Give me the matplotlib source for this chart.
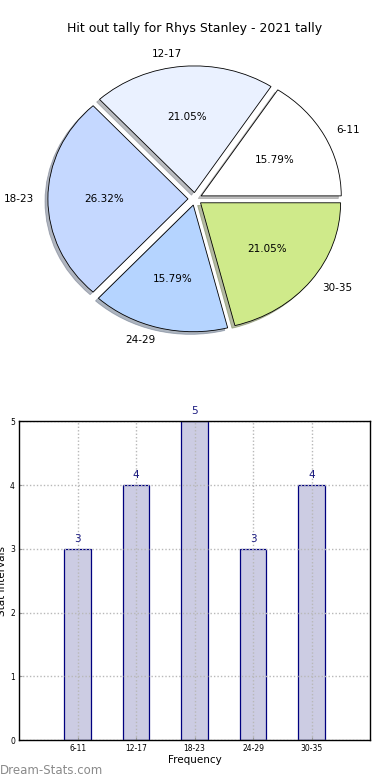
import matplotlib
matplotlib.use('Agg')
import matplotlib.pyplot as plt

# Data
intervals = ['6-11', '12-17', '18-23', '24-29', '30-35']
counts = [3, 4, 5, 3, 4]
slice_colors = ['#ffffff', '#eaf1ff', '#c5d8ff', '#b5d4ff', '#cfea8a']

fig = plt.figure(figsize=(3.9, 7.8), dpi=100)

# Pie chart
ax1 = fig.add_axes([0.051, 0.542, 0.898, 0.406])
ax1.pie(counts, labels=intervals, colors=slice_colors, autopct='%.2f%%',
        explode=[0.05] * len(counts),
        shadow={'ox': -0.015, 'oy': -0.015, 'shade': 0.5},
        startangle=0,
        wedgeprops={'edgecolor': 'black', 'linewidth': 0.6},
        textprops={'fontsize': 7.5})
ax1.set_aspect('auto')
ax1.set_xlim(-1.25, 1.25)
ax1.set_ylim(-1.25, 1.25)
ax1.set_title('Hit out tally for Rhys Stanley - 2021 tally', fontsize=9, pad=6)

# Bar chart
ax2 = fig.add_axes([0.049, 0.051, 0.9, 0.409])
x = range(len(intervals))
ax2.bar(x, counts, width=0.45, color='#ccccE3', edgecolor='#00007f', linewidth=0.9)
for i, c in zip(x, counts):
    ax2.text(i, c + 0.08, str(c), ha='center', va='bottom', fontsize=7.5, color='#1a1a80')
ax2.set_xlim(-1, 5)
ax2.set_ylim(0, 5)
ax2.set_xticks(list(x))
ax2.set_xticklabels(intervals)
ax2.set_yticks(range(6))
ax2.tick_params(labelsize=5.5, direction='in', length=2, color='#999999', pad=3)
ax2.set_axisbelow(False)
ax2.grid(True, linestyle=(0, (1, 1.5)), color='#b8b8b8', linewidth=1.0)
ax2.set_xlabel('Frequency', fontsize=7.5, labelpad=1)
ax2.set_ylabel('Stat Intervals', fontsize=7.5, labelpad=2)
for s in ax2.spines.values():
    s.set_linewidth(1.0)
    s.set_zorder(3)

fig.text(0.0, 0.004, 'Dream-Stats.com', fontsize=8.5, color='#8a8a8a', ha='left', va='bottom')

fig.savefig('out.png', dpi=100)
